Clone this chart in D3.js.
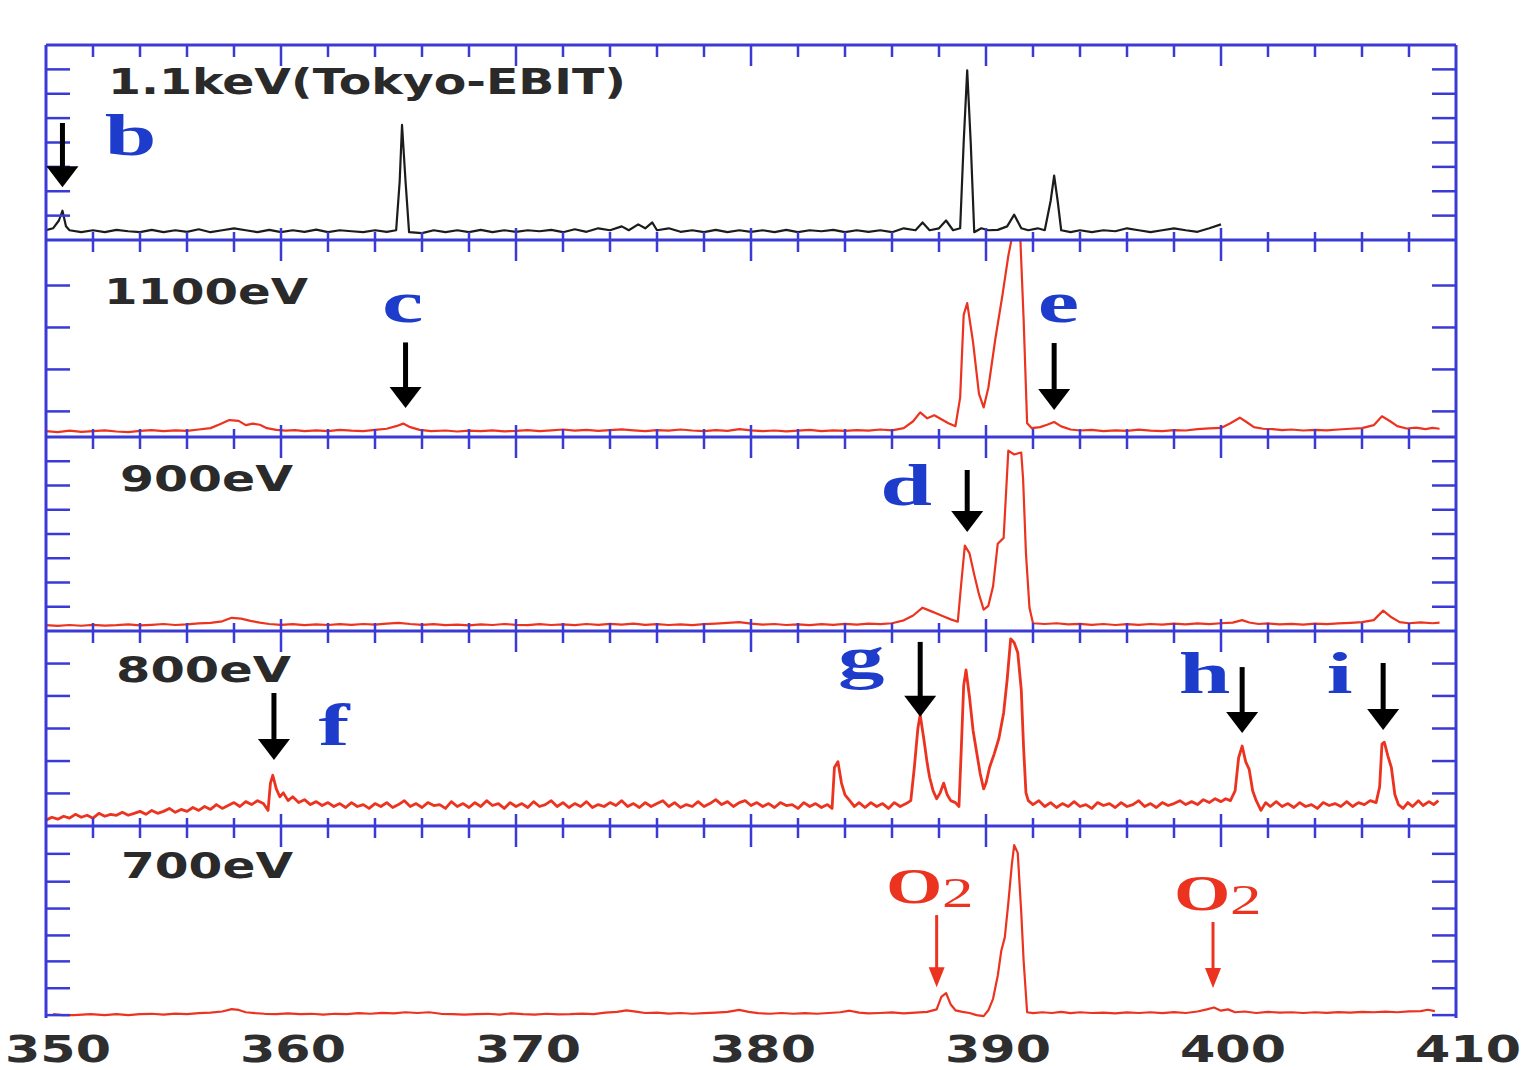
<!DOCTYPE html>
<html><head><meta charset="utf-8">
<script src="https://cdn.jsdelivr.net/npm/d3@7"></script>
<style>html,body{margin:0;padding:0;background:#fff;}svg{display:block;}</style>
</head><body>
<svg id="c" width="1528" height="1070"></svg>
<script>
// ---------------- DATA ----------------
const xTickLabels = [350, 360, 370, 380, 390, 400, 410];
const xMinorTicks = [352,354,356,358,362,364,366,368,372,374,376,378,382,384,386,388,392,394,396,398,402,404,406,408];
const xMajorTicks = [360, 370, 380, 390, 400];

const panelNames = ["1.1keV(Tokyo-EBIT)", "1100eV", "900eV", "800eV", "700eV"];

// y ticks per panel (percent of panel height)
const yTicksEBIT = [12.5, 25, 37.5, 50, 62.5, 75, 87.5];
const yTicks1100 = [13, 34.3, 55.6, 76.9];
const yTicks900 = [12.5, 25, 37.5, 50, 62.5, 75, 87.5];
const yTicks800 = [16.7, 33.3, 50, 66.7, 83.3];
const yTicks700 = [1.5, 15.5, 29.5, 43, 57, 71, 85.5];

// spectra: [energy eV, intensity (% of panel height)]
const specEBIT = [[350,5],[350.3,6],[350.55,10],[350.7,15],[350.85,7],[351,5],[351.5,4],[352,5],[352.5,4],[353,5.2],[353.5,4.5],[354,4],[354.5,5.2],[355,4],[355.5,5],[356,4.2],[356.5,5.5],[357,4],[357.5,5],[358,6],[358.5,5],[359,4],[359.5,5.2],[360,4],[360.5,5],[361,4.2],[361.5,5.3],[362,4],[362.5,5],[363,4.5],[363.5,4],[364,5],[364.5,4.2],[364.9,5],[365.05,30],[365.15,59],[365.3,30],[365.45,4],[366,3.5],[366.5,5],[367,4],[367.5,5],[368,4],[368.5,5.2],[369,4],[369.5,5],[370,4.2],[370.5,5],[371,4.5],[371.5,5.2],[372,4],[372.5,5.5],[373,4.2],[373.5,6],[374,5],[374.5,7],[374.8,5],[375.2,8],[375.5,6],[375.8,9],[376,5],[376.5,6],[377,4.2],[377.5,5],[378,4],[378.5,5.2],[379,4],[379.5,5],[380,4.2],[380.5,5],[381,4],[381.5,5.2],[382,4],[382.5,5],[383,4.5],[383.5,5.2],[384,4],[384.5,5],[385,4.2],[385.5,5],[386,4],[386.5,6],[387,5],[387.3,9],[387.6,5],[388,6],[388.3,10],[388.6,5],[388.9,6],[389.05,50],[389.2,87],[389.35,50],[389.5,4],[389.8,6],[390.1,5],[390.5,5.2],[390.9,7],[391.2,13],[391.5,6],[391.8,5],[392.2,6],[392.5,5],[392.75,20],[392.9,33],[393.05,20],[393.2,5],[393.6,4],[394,5],[394.5,4],[395,5],[395.5,4.5],[396,6],[396.5,5],[397,4],[397.5,5],[398,6],[398.5,5],[399,4.2],[399.5,6],[400,8]];

const spec1100 = [[350,3],[350.5,2.5],[351,3.2],[351.5,2.6],[352,3],[352.5,3.4],[353,2.8],[353.5,2.5],[354,3.1],[354.5,3.5],[355,3],[355.5,3.4],[356,3.1],[356.5,3.8],[357,4.5],[357.4,6.5],[357.8,8.6],[358.2,8.2],[358.5,6],[358.8,6.8],[359.1,6.2],[359.4,4.5],[359.8,3.6],[360.2,3.2],[360.6,3.5],[361,3],[361.5,3.4],[362,3],[362.5,3.6],[363,3.2],[363.5,3],[364,3.6],[364.5,4.2],[364.9,5.5],[365.2,6.8],[365.5,5],[365.9,3.6],[366.4,3],[367,3.3],[367.5,2.8],[368,3.2],[368.5,3],[369,3.4],[369.5,2.9],[370,3.1],[370.5,3.5],[371,3],[371.5,3.4],[372,3.8],[372.5,3.2],[373,3.6],[373.5,3.1],[374,3.5],[374.5,3.9],[375,3.4],[375.5,3],[376,3.5],[376.5,3.2],[377,3.8],[377.5,3.3],[378,3],[378.5,3.5],[379,3.1],[379.5,4],[380,3.4],[380.5,3],[381,3.3],[381.5,2.9],[382,3.2],[382.5,3.6],[383,3],[383.5,3.4],[384,3.1],[384.5,3.5],[385,3.2],[385.5,3.8],[386,3.4],[386.5,4.5],[386.9,8],[387.2,12.5],[387.5,9.5],[387.8,11],[388.1,9],[388.4,7],[388.7,5.5],[388.9,20],[389.05,62],[389.2,68],[389.45,48],[389.7,22],[389.9,15],[390.1,25],[390.4,50],[390.7,72],[390.95,92],[391.15,104],[391.45,104],[391.6,60],[391.75,7],[391.95,4.5],[392.3,5],[392.6,6.2],[392.9,7.6],[393.2,5.4],[393.6,3.8],[394,3.3],[394.5,3.6],[395,3],[395.5,3.4],[396,3.1],[396.5,3.7],[397,3.2],[397.5,3],[398,3.5],[398.5,3.3],[399,4],[399.5,4.4],[400,4.6],[400.4,7],[400.8,9.8],[401.1,7.5],[401.4,5],[401.8,4.2],[402.2,4],[402.6,3.5],[403,3.8],[403.5,3.3],[404,3.6],[404.5,3.4],[405,3.8],[405.5,4.2],[406,4.5],[406.5,6],[406.85,10.5],[407.2,8],[407.5,5.5],[407.9,4.3],[408.3,4.8],[408.7,4],[409,4.6],[409.3,4.2]];

const spec900 = [[350,3],[350.5,2.6],[351,3.1],[351.5,2.7],[352,3.2],[352.5,2.8],[353,3],[353.5,3.4],[354,2.9],[354.5,3.2],[355,3.6],[355.5,3.1],[356,3.4],[356.5,3.9],[357,4.2],[357.5,5],[357.9,6.8],[358.3,6.4],[358.7,5.2],[359.1,4.3],[359.5,3.6],[360,3.2],[360.5,3.5],[361,3],[361.5,3.4],[362,3.1],[362.5,3.5],[363,3.2],[363.5,3.6],[364,3.3],[364.5,3.8],[365,4.2],[365.5,3.6],[366,3.2],[366.5,3.5],[367,3],[367.5,3.3],[368,2.9],[368.5,3.4],[369,3.1],[369.5,3.6],[370,3.2],[370.5,3],[371,3.5],[371.5,3.1],[372,3.4],[372.5,3],[373,3.6],[373.5,3.2],[374,3.7],[374.5,3.3],[375,3.8],[375.5,3.2],[376,3.5],[376.5,3.1],[377,3.4],[377.5,3],[378,3.5],[378.5,3.8],[379,4.2],[379.5,4.6],[380,3.8],[380.5,3.3],[381,3.6],[381.5,3.1],[382,3.4],[382.5,3],[383,3.5],[383.5,3.2],[384,3.7],[384.5,3.3],[385,3.8],[385.5,3.5],[386,4],[386.5,5.5],[386.9,8],[387.3,12],[387.6,10.5],[387.9,9],[388.2,7.5],[388.5,6],[388.8,4.8],[388.95,25],[389.1,44],[389.3,40],[389.5,29],[389.7,19],[389.9,11],[390.1,13],[390.3,23],[390.5,45],[390.75,48],[390.95,93],[391.2,91],[391.5,92],[391.58,78],[391.7,40],[391.85,12],[392,4],[392.5,3.6],[393,4],[393.5,3.4],[394,3.7],[394.5,3.2],[395,3.6],[395.5,3.1],[396,3.5],[396.5,3.2],[397,3.6],[397.5,3.3],[398,3.8],[398.5,3.4],[399,3.9],[399.5,3.5],[400,4],[400.5,4.3],[400.9,5.6],[401.2,4.4],[401.6,3.6],[402,3.9],[402.5,3.4],[403,3.7],[403.5,3.3],[404,3.8],[404.5,3.5],[405,3.9],[405.5,4.2],[406,4.6],[406.5,5.6],[406.9,10.5],[407.2,7.5],[407.6,4.6],[408,4],[408.5,4.4],[409,4],[409.3,4.3]];

const spec800 = [[350,3],[350.25,4.5],[350.5,3.5],[350.75,5],[351,4],[351.25,6],[351.5,4.5],[351.75,5.5],[352,4],[352.25,6.5],[352.5,5],[352.75,6],[353,5.5],[353.25,7],[353.5,5.5],[353.75,6.5],[354,7.5],[354.25,6],[354.5,8],[354.75,6.5],[355,7.5],[355.25,9],[355.5,7],[355.75,8.5],[356,7.5],[356.25,9.5],[356.5,8],[356.75,10],[357,8.5],[357.25,11],[357.5,9],[357.75,10.5],[358,12],[358.25,10],[358.5,12.5],[358.75,11],[359,13],[359.25,11.5],[359.45,8],[359.55,22],[359.65,26],[359.8,19],[359.95,15],[360.1,17],[360.3,13],[360.5,15],[360.75,12],[361,13.5],[361.25,11],[361.5,12.5],[361.75,10.5],[362,12],[362.25,10],[362.5,11.5],[362.75,9.5],[363,12],[363.25,10],[363.5,11],[363.75,9],[364,11.5],[364.25,10],[364.5,12],[364.75,9.5],[365,11],[365.25,13],[365.5,10],[365.75,11.5],[366,9.5],[366.25,12],[366.5,10.5],[366.75,11],[367,9],[367.25,12.5],[367.5,10],[367.75,11.5],[368,9.5],[368.25,12],[368.5,10],[368.75,13],[369,10.5],[369.25,11.5],[369.5,9],[369.75,12],[370,10],[370.25,11.5],[370.5,9.5],[370.75,12.5],[371,10],[371.25,11],[371.5,13],[371.75,10],[372,12],[372.25,9.5],[372.5,11.5],[372.75,10],[373,12.5],[373.25,9.5],[373.5,11],[373.75,10],[374,12],[374.25,10.5],[374.5,13],[374.75,10],[375,11.5],[375.25,9.5],[375.5,12],[375.75,10],[376,11.5],[376.25,13],[376.5,10],[376.75,12],[377,9.5],[377.25,11],[377.5,10],[377.75,12.5],[378,10],[378.25,11.5],[378.5,13.5],[378.75,11],[379,12.5],[379.25,10],[379.5,12],[379.75,13],[380,10.5],[380.25,12],[380.5,10],[380.75,11.5],[381,9.5],[381.25,12],[381.5,10.5],[381.75,11],[382,9],[382.25,12],[382.5,10],[382.75,11.5],[383,9.5],[383.25,11],[383.45,9],[383.55,30],[383.7,33],[383.85,22],[384,16],[384.2,13],[384.4,10],[384.6,12],[384.85,9.5],[385.1,12],[385.35,10],[385.6,11.5],[385.85,9],[386.1,12],[386.35,10],[386.6,11.5],[386.8,13],[386.95,30],[387.1,50],[387.2,57],[387.35,45],[387.5,32],[387.6,25],[387.75,18],[387.9,14],[388.05,17],[388.2,22],[388.35,16],[388.5,13],[388.7,12],[388.85,10],[388.95,40],[389.05,72],[389.15,80],[389.3,66],[389.45,49],[389.6,38],[389.75,27],[389.9,19],[390,22],[390.15,30],[390.35,37],[390.55,45],[390.75,58],[390.9,75],[391.05,96],[391.2,94],[391.35,89],[391.5,70],[391.6,40],[391.7,17],[391.8,13],[392,11],[392.25,13],[392.5,10],[392.75,12],[393,9.5],[393.25,11.5],[393.5,10],[393.75,12.5],[394,10],[394.25,11],[394.5,9],[394.75,12],[395,10.5],[395.25,11.5],[395.5,9.5],[395.75,12],[396,10],[396.25,11],[396.5,13],[396.75,10],[397,11.5],[397.25,9.5],[397.5,12],[397.75,10.5],[398,11.5],[398.25,13],[398.5,11],[398.75,12.5],[399,11],[399.25,13.5],[399.5,12],[399.75,14],[400,12.5],[400.2,14],[400.4,13],[400.6,18],[400.75,35],[400.9,41],[401.05,33],[401.2,29],[401.35,18],[401.5,13],[401.7,8],[401.9,12],[402.1,10],[402.35,12.5],[402.6,10],[402.85,11.5],[403.1,9.5],[403.35,12],[403.6,10],[403.85,11],[404.1,9],[404.35,12],[404.6,10.5],[404.85,11.5],[405.1,10],[405.35,12.5],[405.6,10],[405.85,12],[406.1,11],[406.35,13],[406.6,12],[406.75,20],[406.85,42],[406.95,43],[407.1,36],[407.25,30],[407.4,16],[407.55,11],[407.75,9],[407.95,12],[408.15,10],[408.4,13],[408.6,10.5],[408.85,12.5],[409.05,11],[409.25,13]];

const spec700 = [[350.3,2],[350.7,1.5],[351.2,1.5],[351.9,2],[352.5,1.5],[353,2],[353.5,1.5],[354,2],[354.5,2.2],[355,1.8],[355.5,2.3],[356,2],[356.5,2.5],[357,2.8],[357.5,3.4],[357.9,4.6],[358.2,4.2],[358.5,3],[358.9,2.5],[359.3,2.2],[359.8,2],[360.3,2.4],[360.8,2],[361.3,2.2],[361.8,1.8],[362.3,2.2],[362.8,2],[363.3,2.5],[363.8,2.2],[364.3,2.7],[364.8,2.4],[365.3,3],[365.8,2.6],[366.3,3],[366.8,2.2],[367.3,2],[367.8,1.8],[368.3,2],[368.8,2.2],[369.3,1.8],[369.8,2.4],[370.3,2],[370.8,1.8],[371.3,2.2],[371.8,1.9],[372.3,2],[372.8,2.3],[373.3,2],[373.8,2.8],[374.3,3.2],[374.7,4],[375.1,3.3],[375.5,2.6],[376,2.8],[376.5,2.3],[377,2.6],[377.5,2.2],[378,2.5],[378.5,2.8],[379,3.2],[379.5,4.2],[379.9,3.2],[380.3,2.5],[380.8,2.2],[381.3,2.6],[381.8,2.2],[382.3,2.5],[382.8,2.2],[383.3,2.6],[383.8,3],[384.2,3.8],[384.6,2.8],[385,2.4],[385.5,2.6],[386,2.9],[386.5,2.4],[387,2.8],[387.5,3.2],[387.9,4.5],[388.1,11],[388.3,13],[388.5,7],[388.7,4],[389,3.2],[389.3,2.6],[389.6,1.5],[389.9,1],[390.1,4],[390.3,10],[390.5,22],[390.65,35],[390.8,42],[390.95,60],[391.1,80],[391.2,90],[391.35,86],[391.5,55],[391.6,30],[391.75,3],[392,2.5],[392.4,3],[392.8,2.6],[393.2,3.2],[393.6,2.5],[394,3],[394.5,2.6],[395,2.8],[395.5,2.4],[396,2.9],[396.5,2.6],[397,3],[397.5,2.5],[398,3.1],[398.5,2.6],[399,3.4],[399.4,4.5],[399.7,5.5],[400,3.8],[400.3,4.5],[400.6,3],[401,3.4],[401.5,2.6],[402,3.2],[402.5,2.8],[403,3],[403.5,2.6],[404,3],[404.5,2.7],[405,3.1],[405.5,2.8],[406,3.2],[406.5,3],[407,3.3],[407.5,3],[408,3.4],[408.5,3.6],[408.8,4.3],[409.1,3.6]];

// annotations: black arrows [panel, energy, top%, tip%], letters [panel, text, energy(left), baseline%]
const arrowPanel = [0, 1, 1, 2, 3, 3, 3, 3];
const arrowEnergy = [350.7, 365.3, 392.9, 389.2, 359.7, 387.2, 400.9, 406.9];
const arrowTop = [60, 48, 47.7, 83, 68.2, 94.4, 81.5, 83.6];
const arrowTip = [27, 14.7, 13.7, 51, 33.8, 56, 47.7, 49.2];
const letterText = ["b", "c", "e", "d", "f", "g", "h", "i"];
const letterPanel = [0, 1, 1, 2, 3, 3, 3, 3];
const letterEnergy = [352.5, 364.3, 392.2, 385.5, 361.6, 383.7, 398.2, 404.5];
const letterBase = [43.6, 58.5, 58.5, 65, 41.5, 76.4, 68.2, 68.2];
// red O2 annotations in 700eV panel
const o2Energy = [387.9, 399.66];
const o2LabelEnergy = [385.74, 398.0];
const o2LabelBase = [59.9, 56.3];
const o2ArrowTop = [53.6, 50];
const o2ArrowTip = [16, 15.6];

// ---------------- DRAW ----------------
const svg = d3.select("#c");
const panelTop = [45, 240, 437, 631, 826];
const panelBot = [240, 437, 631, 826, 1018];
const xL = 46, xR = 1456;
const x = d3.scaleLinear().domain([350, 410]).range([xL, xR]);
const ys = panelTop.map((t, i) => d3.scaleLinear().domain([0, 100]).range([panelBot[i], t]));

const BLUE = "#3a3ad6", RED = "#ec3320", LBLUE = "#1e3ccc";
const specs = [specEBIT, spec1100, spec900, spec800, spec700];
const yTicks = [yTicksEBIT, yTicks1100, yTicks900, yTicks800, yTicks700];

const defs = svg.append("defs");
panelTop.forEach((t, i) => {
  defs.append("clipPath").attr("id", "clip" + i).append("rect")
    .attr("x", xL).attr("y", t).attr("width", xR - xL).attr("height", panelBot[i] - t);
});

// traces
specs.forEach((s, i) => {
  const line = d3.line().x(d => x(d[0])).y(d => ys[i](d[1]));
  svg.append("path").datum(s).attr("d", line)
    .attr("clip-path", "url(#clip" + i + ")")
    .attr("fill", "none")
    .attr("stroke", i === 0 ? "#1c1c1c" : RED)
    .attr("stroke-width", i === 3 ? 2.8 : 2.2)
    .attr("stroke-linejoin", "round");
});

// frame & ticks
const g = svg.append("g").attr("stroke", BLUE).attr("fill", "none");
g.append("line").attr("x1", xL).attr("x2", xL).attr("y1", 45).attr("y2", 1018).attr("stroke-width", 3);
g.append("line").attr("x1", xR).attr("x2", xR).attr("y1", 45).attr("y2", 1018).attr("stroke-width", 3);
panelTop.forEach((t, i) => {
  g.append("line").attr("x1", xL).attr("x2", xR).attr("y1", t).attr("y2", t).attr("stroke-width", 3);
  // top edge ticks (down)
  xMinorTicks.forEach(v => g.append("line").attr("x1", x(v)).attr("x2", x(v)).attr("y1", t).attr("y2", t + 12).attr("stroke-width", 2.5));
  xMajorTicks.forEach(v => g.append("line").attr("x1", x(v)).attr("x2", x(v)).attr("y1", t).attr("y2", t + 21).attr("stroke-width", 2.5));
  // bottom edge ticks (up) except last panel
  if (i < 4) {
    const b = panelBot[i];
    xMinorTicks.forEach(v => g.append("line").attr("x1", x(v)).attr("x2", x(v)).attr("y1", b).attr("y2", b - 8).attr("stroke-width", 2.5));
    xMajorTicks.forEach(v => g.append("line").attr("x1", x(v)).attr("x2", x(v)).attr("y1", b).attr("y2", b - 12).attr("stroke-width", 2.5));
  }
  // y ticks
  yTicks[i].forEach(v => {
    g.append("line").attr("x1", xL).attr("x2", xL + 24).attr("y1", ys[i](v)).attr("y2", ys[i](v)).attr("stroke-width", 2.5);
    g.append("line").attr("x1", xR).attr("x2", xR - 24).attr("y1", ys[i](v)).attr("y2", ys[i](v)).attr("stroke-width", 2.5);
  });
});

// x tick labels
xTickLabels.forEach(v => {
  svg.append("text").attr("x", x(v) + 12).attr("y", 1062)
    .attr("text-anchor", "middle")
    .attr("font-family", "DejaVu Sans, sans-serif").attr("font-weight", "bold")
    .attr("font-size", 37).attr("fill", "#2e2e2e")
    .attr("textLength", 106).attr("lengthAdjust", "spacingAndGlyphs")
    .text(v);
});

// panel labels
const labelX = [108, 104, 120, 116, 121];
const labelBase = [94, 304, 491, 682, 878];
const labelLen = [518, 204, 173, 175, 172];
panelNames.forEach((n, i) => {
  svg.append("text").attr("x", labelX[i]).attr("y", labelBase[i])
    .attr("font-family", "DejaVu Sans, sans-serif").attr("font-weight", "bold")
    .attr("font-size", 36).attr("fill", "#2a2a2a")
    .attr("textLength", labelLen[i]).attr("lengthAdjust", "spacingAndGlyphs")
    .text(n);
});

// black arrows
arrowEnergy.forEach((e, k) => {
  const p = arrowPanel[k];
  const ax = x(e), y0 = ys[p](arrowTop[k]), y1 = ys[p](arrowTip[k]);
  svg.append("line").attr("x1", ax).attr("x2", ax).attr("y1", y0).attr("y2", y1 - 14)
    .attr("stroke", "#000").attr("stroke-width", 5);
  svg.append("path").attr("d", `M${ax - 16},${y1 - 21} L${ax + 16},${y1 - 21} L${ax},${y1} Z`).attr("fill", "#000");
});

// blue letters
letterText.forEach((t, k) => {
  const p = letterPanel[k];
  svg.append("text")
    .attr("transform", `translate(${x(letterEnergy[k])},${ys[p](letterBase[k])}) scale(1.55,1)`)
    .attr("font-family", "Liberation Serif, serif").attr("font-weight", "bold")
    .attr("font-size", 60).attr("fill", LBLUE).text(t);
});

// red O2 labels & arrows
o2Energy.forEach((e, k) => {
  const lx = x(o2LabelEnergy[k]), ly = ys[4](o2LabelBase[k]);
  svg.append("text").attr("transform", `translate(${lx},${ly}) scale(1.45,1)`)
    .attr("font-family", "Liberation Serif, serif").attr("font-weight", "bold")
    .attr("font-size", 50).attr("fill", RED).text("O");
  svg.append("text").attr("transform", `translate(${lx + 56},${ly + 4}) scale(1.5,1)`)
    .attr("font-family", "Liberation Serif, serif").attr("font-size", 42).attr("fill", RED).text("2");
  const ax = x(e), y0 = ys[4](o2ArrowTop[k]), y1 = ys[4](o2ArrowTip[k]);
  svg.append("line").attr("x1", ax).attr("x2", ax).attr("y1", y0).attr("y2", y1 - 10)
    .attr("stroke", RED).attr("stroke-width", 3);
  svg.append("path").attr("d", `M${ax - 8},${y1 - 20} L${ax + 8},${y1 - 20} L${ax},${y1} Z`).attr("fill", RED);
});
</script>
</body></html>
